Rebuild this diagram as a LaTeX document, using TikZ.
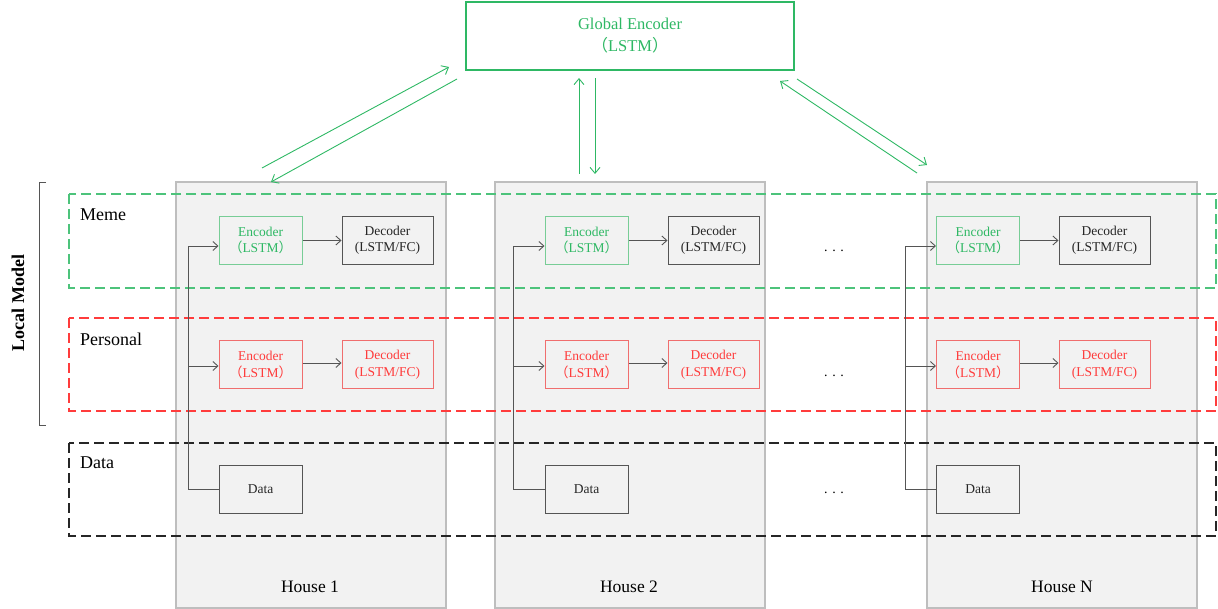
\documentclass[tikz,border=0pt]{standalone}
\usepackage{fontspec}
\setmainfont{Liberation Serif}
\newfontfamily\cjk{Noto Sans CJK SC}
\usetikzlibrary{arrows.meta}
\definecolor{gG}{RGB}{46,184,100}
\definecolor{gGl}{RGB}{120,205,150}
\definecolor{rR}{RGB}{255,60,60}
\definecolor{rRl}{RGB}{240,110,110}
\definecolor{hG}{RGB}{242,242,242}
\definecolor{hB}{RGB}{190,190,190}
\definecolor{dK}{RGB}{85,85,85}
\tikzset{
  house/.style={draw=hB, fill=hG, line width=1.2pt, minimum width=270pt, minimum height=426pt, inner sep=0pt},
  row/.style={line width=1.3pt, dash pattern=on 10pt off 5pt},
  box/.style={draw=dK, fill=hG, line width=1pt, minimum height=48pt, inner sep=0pt, align=center, font=\fontsize{13.5}{16.5}\selectfont},
  encG/.style={box, draw=gGl, text=gG, minimum width=83pt},
  encR/.style={box, draw=rRl, text=rR, minimum width=83pt},
  decK/.style={box, draw=dK, text=black!85, minimum width=91pt},
  decR/.style={box, draw=rRl, text=rR, minimum width=91pt},
  dataK/.style={box, draw=dK, text=black!85, minimum width=83pt},
  lab/.style={font=\fontsize{18}{20}\selectfont, anchor=west, inner sep=0pt},
  hlab/.style={font=\fontsize{17.5}{20}\selectfont, inner sep=0pt},
  conn/.style={draw=dK, line width=0.9pt, -{Straight Barb[length=5pt,width=9pt]}},
  bus/.style={draw=dK, line width=0.9pt},
  garr/.style={draw=gG, line width=0.9pt, -{Straight Barb[length=6pt,width=10pt]}},
  dots/.style={font=\fontsize{14}{14}\selectfont, inner sep=0pt}
}
\begin{document}
\begin{tikzpicture}[x=1pt,y=-1pt]
\useasboundingbox (0,0) rectangle (1218,609);
% houses
\node[house] (h1) at (311,395) {};
\node[house] (h2) at (630,395) {};
\node[house] (hN) at (1062,395) {};
\node[hlab] (h1l) at (310,587) {House 1};
\node[hlab] (h2l) at (629,587) {House 2};
\node[hlab] (hNl) at (1062,587) {House N};
% dashed rows
\draw[row, draw=gG!85] (69,194) rectangle (1216,288);
\draw[row, draw=rR] (69,318) rectangle (1216,411);
\draw[row, draw=black!85] (69,443) rectangle (1216,536);
\node[lab] (meme) at (80,215) {Meme};
\node[lab] (pers) at (80,339) {Personal};
\node[lab] (datal) at (80,463) {Data};
% bracket
\draw[dK, line width=1pt] (46,183) -- (39,183) -- (39,425) -- (46,425);
\node[rotate=90, font=\bfseries\fontsize{18}{20}\selectfont, inner sep=0pt] (lm) at (18,303) {Local Model};
% global encoder
\node[draw=gG, line width=1.2pt, fill=white, minimum width=328pt, minimum height=68pt, align=center, text=gG, font=\fontsize{16.5}{22}\selectfont] (ge) at (630,36) {Global Encoder\\{\cjk （}LSTM{\cjk ）}};
% house contents
\foreach \n/\vx/\ex/\dx in {1/188/260.5/387.5, 2/513/586.5/713.5, N/905/978/1104.5}{
  \node[encG] (em\n) at (\ex,240.5) {Encoder\\{\cjk （}LSTM{\cjk ）}};
  \node[decK] (dm\n) at (\dx,240.5) {Decoder\\(LSTM/FC)};
  \node[encR] (ep\n) at (\ex,365) {Encoder\\{\cjk （}LSTM{\cjk ）}};
  \node[decR] (dp\n) at (\dx,365) {Decoder\\(LSTM/FC)};
  \node[dataK] (da\n) at (\ex,489) {Data};
  \coordinate (bt\n) at (\vx,246);
  \coordinate (bm\n) at (\vx,366);
  \coordinate (bb\n) at (\vx,489);
  \draw[bus] (da\n.west) -- (bb\n) -- (bt\n);
  \draw[conn] (bt\n) -- ([yshift=-5.5pt]em\n.west);
  \draw[conn] (bm\n) -- ([yshift=-1pt]ep\n.west);
  \draw[conn] (em\n.east) -- (dm\n.west);
  \draw[conn] ([yshift=2pt]ep\n.east) -- ([yshift=2pt]dp\n.west);
}
% dots
\node[dots] (d1) at (834,251) {. . .};
\node[dots] (d2) at (834,376) {. . .};
\node[dots] (d3) at (834,493) {. . .};
% global arrows
\coordinate (a1s) at (262,168); \coordinate (a1e) at (449,67);
\coordinate (a2s) at (457,79);  \coordinate (a2e) at (271,182);
\coordinate (m1s) at (579,174); \coordinate (m1e) at (579,78);
\coordinate (m2s) at (595,78);  \coordinate (m2e) at (595,174);
\coordinate (r1s) at (917,173); \coordinate (r1e) at (780,81);
\coordinate (r2s) at (797,79);  \coordinate (r2e) at (927,165);
\draw[garr] (a1s) -- (a1e);
\draw[garr] (a2s) -- (a2e);
\draw[garr] (m1s) -- (m1e);
\draw[garr] (m2s) -- (m2e);
\draw[garr] (r1s) -- (r1e);
\draw[garr] (r2s) -- (r2e);
\end{tikzpicture}
\end{document}
